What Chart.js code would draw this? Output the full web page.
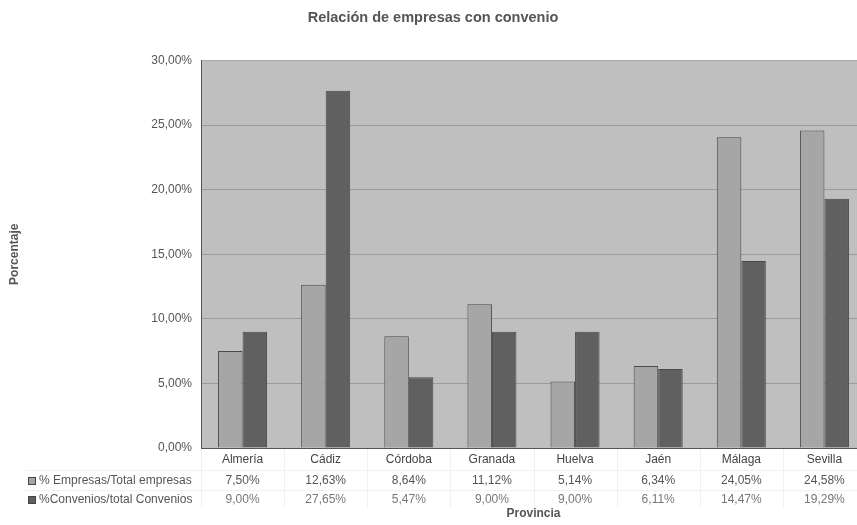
<!DOCTYPE html>
<html>
<head>
<meta charset="utf-8">
<script src="https://cdn.jsdelivr.net/npm/chart.js@4"></script>
<style>
  html, body { margin: 0; padding: 0; background: #fff; overflow: hidden; }
  #wrap { width: 866px; height: 525px; }
</style>
</head>
<body>
<div id="wrap"><canvas id="chart"></canvas></div>
<script>
// Data
const provincias = ['Almería', 'Cádiz', 'Córdoba', 'Granada', 'Huelva', 'Jaén', 'Málaga', 'Sevilla'];
const empresas = [7.50, 12.63, 8.64, 11.12, 5.14, 6.34, 24.05, 24.58];
const convenios = [9.00, 27.65, 5.47, 9.00, 9.00, 6.11, 14.47, 19.29];
const seriesNames = ['% Empresas/Total empresas', '%Convenios/total Convenios'];

const fontFamily = '"Liberation Sans", Arial, sans-serif';
const lightBar = '#a6a6a6';
const darkBar = '#606060';

// Spanish style percentage, e.g. 12,63%
function pct(v) {
    return v.toFixed(2).replace('.', ',') + '%';
}

// Grey plot area behind the bars
const plotBackground = {
    id: 'plotBackground',
    beforeDraw(chart) {
        const { ctx, chartArea: a } = chart;
        ctx.save();
        ctx.fillStyle = '#bfbfbf';
        ctx.fillRect(a.left, a.top, a.right - a.left, a.bottom - a.top);
        ctx.restore();
    }
};

// Excel style data table under the category labels
const dataTable = {
    id: 'dataTable',
    afterDraw(chart) {
        const { ctx } = chart;
        const x = chart.scales.x;
        const rows = [empresas, convenios];
        const rowY = [481, 500];
        const keyColors = [lightBar, darkBar];

        ctx.save();
        // faint table lines
        ctx.strokeStyle = '#f1f1f1';
        ctx.lineWidth = 1;
        [470.5, 490.5].forEach(y => {
            ctx.beginPath();
            ctx.moveTo(25, y);
            ctx.lineTo(x.right, y);
            ctx.stroke();
        });
        for (let i = 0; i <= provincias.length; i++) {
            const px = Math.round(x.getPixelForValue(i - 0.5)) + 0.5;
            ctx.beginPath();
            ctx.moveTo(px, 449);
            ctx.lineTo(px, 508);
            ctx.stroke();
        }

        ctx.font = '12px ' + fontFamily;
        ctx.textBaseline = 'middle';
        rows.forEach((vals, r) => {
            // legend key
            ctx.fillStyle = keyColors[r];
            ctx.fillRect(28, rowY[r] - 4, 8, 8);
            ctx.strokeStyle = '#444';
            ctx.strokeRect(28.5, rowY[r] - 3.5, 7, 7);
            ctx.fillStyle = '#555';
            ctx.textAlign = 'left';
            ctx.fillText(seriesNames[r], 39, rowY[r]);
            // values
            ctx.textAlign = 'center';
            ctx.fillStyle = r === 0 ? '#555' : '#777';
            vals.forEach((v, i) => {
                ctx.fillText(pct(v), x.getPixelForValue(i), rowY[r]);
            });
        });
        ctx.restore();
    }
};

new Chart(document.getElementById('chart'), {
    type: 'bar',
    data: {
        labels: provincias,
        datasets: [
            {
                label: seriesNames[0],
                data: empresas,
                backgroundColor: lightBar,
                borderColor: '#4a4a4a',
                borderWidth: 1
            },
            {
                label: seriesNames[1],
                data: convenios,
                backgroundColor: darkBar,
                borderColor: '#4a4a4a',
                borderWidth: 1
            }
        ]
    },
    options: {
        responsive: true,
        maintainAspectRatio: false,
        animation: false,
        layout: { padding: 0 },
        datasets: {
            bar: { barPercentage: 1.0, categoryPercentage: 0.59 }
        },
        scales: {
            x: {
                grid: { display: false, drawTicks: false },
                border: { display: true, color: '#555' },
                ticks: {
                    padding: 4,
                    color: '#444',
                    font: { family: fontFamily, size: 12 }
                },
                title: {
                    display: true,
                    text: 'Provincia',
                    color: '#555',
                    padding: { top: 0, bottom: 4 },
                    font: { family: fontFamily, size: 12, weight: 'bold' }
                },
                afterFit(scale) { scale.height = 77; }
            },
            y: {
                min: 0,
                max: 30,
                ticks: {
                    stepSize: 5,
                    padding: 9,
                    color: '#555',
                    font: { family: fontFamily, size: 12 },
                    callback: v => pct(v)
                },
                grid: { color: 'rgba(110,110,110,0.45)', drawTicks: false },
                border: { display: true, color: '#555' },
                title: {
                    display: true,
                    text: 'Porcentaje',
                    color: '#555',
                    padding: { top: 7, bottom: 0 },
                    font: { family: fontFamily, size: 12, weight: 'bold' }
                },
                afterFit(scale) { scale.width = 201; }
            }
        },
        plugins: {
            legend: { display: false },
            tooltip: { enabled: false },
            title: {
                display: true,
                text: 'Relación de empresas con convenio',
                color: '#555',
                padding: { top: 9, bottom: 34 },
                font: { family: fontFamily, size: 14.5, weight: 'bold' }
            }
        }
    },
    plugins: [plotBackground, dataTable]
});
</script>
</body>
</html>
